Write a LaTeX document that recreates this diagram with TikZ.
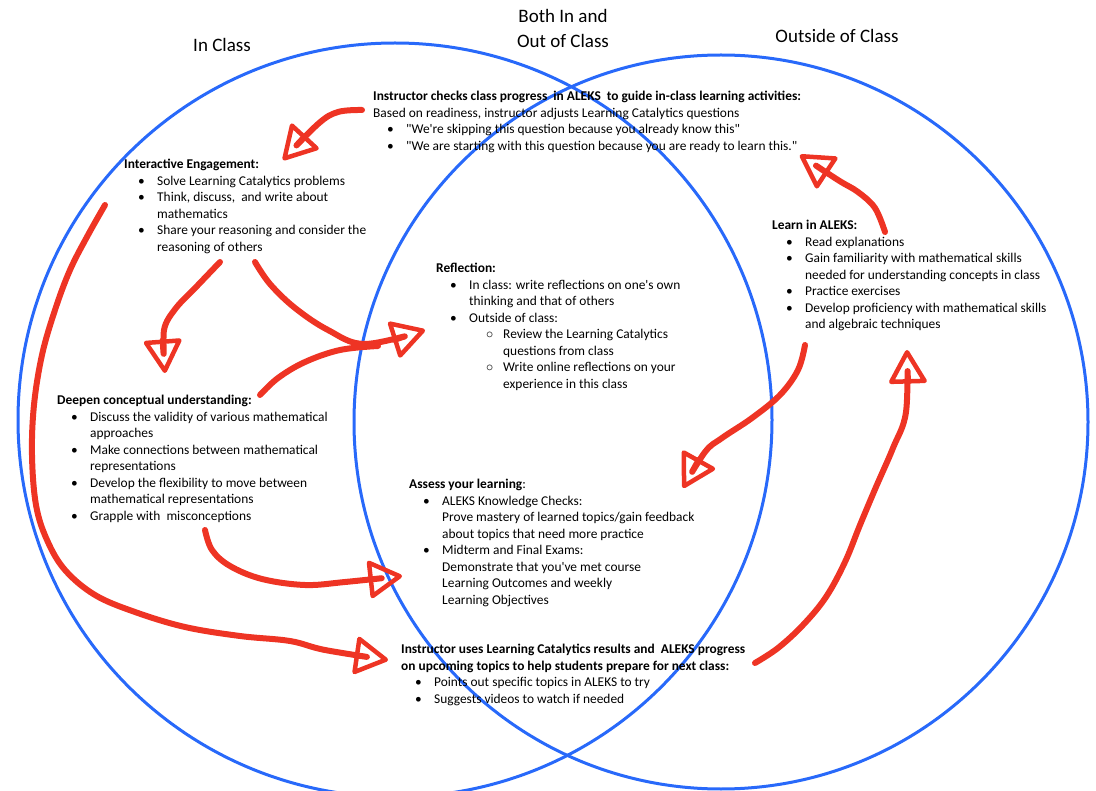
\documentclass[tikz,border=0pt]{standalone}
\usepackage{fontspec}
\setmainfont{Carlito}
\usetikzlibrary{arrows.meta}

\definecolor{ringblue}{RGB}{40,105,250}
\definecolor{inkred}{RGB}{238,52,36}

% bullet lines
\newcommand\itm{\hspace*{14pt}\makebox[19pt][l]{\textbullet}}
\newcommand\cnt{\hspace*{33pt}}
\newcommand\sitm{\hspace*{50pt}\makebox[17pt][l]{$\circ$}}
\newcommand\scnt{\hspace*{67pt}}
\newcommand\qq{\textquotedbl}

\tikzset{
  ring/.style={draw=ringblue, line width=3pt},
  heading/.style={align=center, font=\fontsize{19}{25}\selectfont},
  blurb/.style={anchor=north west, inner sep=0pt, align=left, font=\fontsize{13.4}{16.5}\selectfont},
  swoop/.style={draw=inkred, line width=6pt, line cap=round, line join=round},
  swooptip/.style={swoop, -{Triangle[open, round, length=36pt, width=40pt, line width=4.5pt]}}
}

\begin{document}
\begin{tikzpicture}[x=1pt,y=-1pt]
\useasboundingbox (0,0) rectangle (1096,791);

% the two circles
\draw[ring] (395,420) circle (377);
\draw[ring] (721,422) circle (367);

\node[heading] (inclass) at (222,45) {In Class};
\node[heading] (both) at (563,28) {Both In and\\Out of Class};
\node[heading] (outside) at (837,36) {Outside of Class};

\node[blurb] (checks) at (373,91) {\textbf{Instructor checks class progress\ \ in ALEKS\ \ to guide in-class learning activities:}\\
Based on readiness, instructor adjusts Learning Catalytics questions\\
\itm \qq We\textquotesingle re skipping this question because you already know this\qq\\
\itm \qq We are starting with this question because you are ready to learn this.\qq};

\node[blurb] (engage) at (124,159) {\textbf{Interactive Engagement:}\\
\itm Solve Learning Catalytics problems\\
\itm Think, discuss,\ \ and write about\\
\cnt mathematics\\
\itm Share your reasoning and consider the\\
\cnt reasoning of others};

\node[blurb] (reflect) at (436,263) {\textbf{Reflection:}\\
\itm In class: write reflections on one\textquotesingle s own\\
\cnt thinking and that of others\\
\itm Outside of class:\\
\sitm Review the Learning Catalytics\\
\scnt questions from class\\
\sitm Write online reflections on your\\
\scnt experience\ in this class};

\node[blurb] (learn) at (772,220) {\textbf{Learn in ALEKS:}\\
\itm Read explanations\\
\itm Gain familiarity with mathematical skills\\
\cnt needed for understanding concepts in class\\
\itm Practice exercises\\
\itm Develop proficiency with mathematical skills\\
\cnt and algebraic techniques};

\node[blurb] (deepen) at (57,395) {\textbf{Deepen conceptual understanding:}\\
\itm Discuss the validity of various mathematical\\
\cnt approaches\\
\itm Make connections between mathematical\\
\cnt representations\\
\itm Develop the flexibility to move between\\
\cnt mathematical representations\\
\itm Grapple with\ \ misconceptions};

\node[blurb] (assess) at (409,479) {\textbf{Assess your learning}:\\
\itm ALEKS Knowledge Checks:\\
\cnt Prove mastery of learned topics/gain feedback\\
\cnt about topics that need more practice\\
\itm Midterm and Final Exams:\\
\cnt Demonstrate that you\textquotesingle ve met course\\
\cnt Learning Outcomes and weekly\\
\cnt Learning Objectives};

\node[blurb] (uses) at (401,644) {\textbf{Instructor uses Learning Catalytics results and\ \ ALEKS progress}\\
\textbf{on upcoming topics to help students prepare for next class:}\\
\itm Points out specific topics in ALEKS to try\\
\itm Suggests videos to watch if needed};

% hand drawn red arrows
\coordinate (adjust) at (362,110);   \coordinate (adjusttip) at (283,160);
\coordinate (aleks) at (885,232);    \coordinate (alekstip) at (800,155);
\coordinate (loop) at (105,205);     \coordinate (looptip) at (388,660);
\coordinate (engdown) at (220,262);  \coordinate (engdowntip) at (165,373);
\coordinate (engright) at (255,262); \coordinate (reflecttip) at (425,330);
\coordinate (deepup) at (260,395);   \coordinate (deepupend) at (378,346);
\coordinate (grapple) at (205,530);  \coordinate (grappletip) at (402,576);
\coordinate (skills) at (805,345);   \coordinate (skillstip) at (683,488);
\coordinate (prepare) at (755,663);  \coordinate (preparetip) at (907,350);

\draw[swooptip] plot[smooth, tension=0.6] coordinates {(adjust) (338,112) (318,124) (adjusttip)};
\draw[swooptip] plot[smooth, tension=0.6] coordinates {(aleks) (875,208) (858,192) (838,180) (alekstip)};
\draw[swooptip] plot[smooth, tension=0.6] coordinates {(loop) (88,235) (70,270) (55,310) (42,355) (34,405) (32,455) (36,505) (47,540) (65,570) (95,595) (135,612) (185,627) (240,636) (290,641) (325,650) (looptip)};
\draw[swooptip] plot[smooth, tension=0.5] coordinates {(engdown) (198,285) (176,308) (164,330) (engdowntip)};
\draw[swooptip] plot[smooth, tension=0.6] coordinates {(engright) (270,284) (295,308) (328,330) (365,344) (reflecttip)};
\draw[swoop] plot[smooth, tension=0.6] coordinates {(deepup) (278,378) (305,362) (340,350) (deepupend)};
\draw[swooptip] plot[smooth, tension=0.6] coordinates {(grapple) (212,550) (230,566) (262,579) (305,585) (345,582) (grappletip)};
\draw[swooptip] plot[smooth, tension=0.6] coordinates {(skills) (798,370) (780,395) (752,418) (722,438) (705,452) (skillstip)};
\draw[swooptip] plot[smooth, tension=0.6] coordinates {(prepare) (778,648) (803,625) (826,597) (845,562) (860,525) (876,487) (893,448) (906,412) (preparetip)};
\end{tikzpicture}
\end{document}
